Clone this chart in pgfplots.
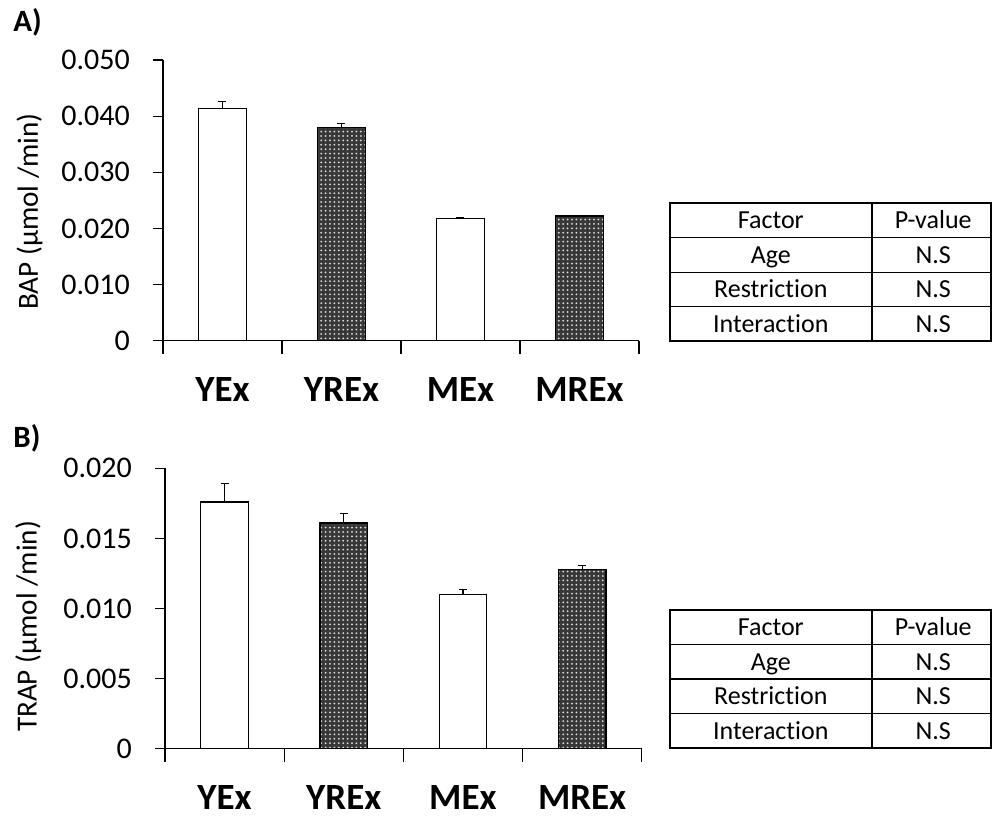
\documentclass[border=0pt]{standalone}
\usepackage{fontspec}
\setmainfont{Carlito}[Ligatures=NoCommon, Contextuals=NoAlternate]
\usepackage{pgfplots}
\pgfplotsset{compat=1.18}
\usetikzlibrary{patterns.meta}

% two-way ANOVA summary table, #1 = top edge
\newcommand\pvtable[1]{%
  \begin{scope}[shift={(0,#1)}]
    \foreach \r in {1,2,3}{\draw[line width=0.6pt] (335pt,-\r*17.25pt) -- (495.5pt,-\r*17.25pt);}
    \draw[line width=0.9pt] (435.85pt,0) -- (435.85pt,-69pt);
    \draw[line width=1pt] (335pt,0) rectangle (495.5pt,-69pt);
    \foreach \t/\p [count=\i] in {Factor/P-value,Age/N.S,Restriction/N.S,Interaction/N.S}{
      \node[anchor=base, inner sep=0pt, font=\fontsize{13}{15}\selectfont]
        at (385.4pt,{-(\i-0.5)*17.25pt-4.2pt}) {\t};
      \node[anchor=base, inner sep=0pt, font=\fontsize{13}{15}\selectfont]
        at (466.6pt,{-(\i-0.5)*17.25pt-4.2pt}) {\p};
    }
  \end{scope}}

\pgfplotsset{
  panel/.style={
    scale only axis,
    axis x line=bottom, axis y line=left,
    axis line style={-, line width=0.6pt, black},
    xmin=-0.5, xmax=3.5, ymin=0,
    tick align=outside,
    major tick length=5pt,
    tick style={line width=0.6pt, black},
    xtick={0,1,2,3},
    xticklabels={YEx,YREx,MEx,MREx},
    xtick style={draw=none},
    xticklabel style={anchor=base, yshift=-25.5pt, inner sep=0pt,
        font=\bfseries\fontsize{18.5}{22}\selectfont},
    extra x ticks={-0.5,0.5,1.5,2.5,3.5},
    extra x tick labels={,,,,},
    extra x tick style={xtick style={draw=black}, major tick length=6.5pt},
    scaled y ticks=false,
    yticklabel style={font=\fontsize{15}{18}\selectfont, inner sep=0pt, xshift=-11.4pt},
    ylabel style={font=\fontsize{14.6}{17}\selectfont, anchor=center},
    clip=false,
  },
  openbar/.style={ybar, bar shift=0pt, bar width=0.4, draw=black, fill=white, line width=0.6pt},
  dotbar/.style={ybar, bar shift=0pt, bar width=0.4, draw=black, line width=0.6pt,
    fill=black!78, postaction={pattern={Dots[distance=2.2pt, radius=0.5pt]}, pattern color=black!12}},
  errs/.style={error bars/.cd, y dir=plus, y explicit,
    error bar style={line width=0.6pt, black},
    error mark options={rotate=90, line width=0.6pt, mark size=2pt, black}},
}

\begin{document}
\begin{tikzpicture}
\path[use as bounding box] (0,0) rectangle (496pt,409pt);

% ---- A) BAP ----
\begin{axis}[panel, at={(81.5pt,238.65pt)}, anchor=south west,
  width=238pt, height=140.35pt, ymax=0.05,
  ytick={0,0.01,0.02,0.03,0.04,0.05},
  yticklabels={0,0.010,0.020,0.030,0.040,0.050},
  ylabel={BAP (µmol /min)},
  ylabel style={at={(axis description cs:-0.2805,0.46)}}]
\addplot[openbar, errs] coordinates {(0,0.0413) +- (0,0.0013) (2,0.0217) +- (0,0.0002)};
\addplot[dotbar, errs] coordinates {(1,0.0380) +- (0,0.0007) (3,0.0222) +- (0,0.0)};
\end{axis}
\node[anchor=base west, inner sep=0pt, font=\bfseries\fontsize{15.5}{18}\selectfont] at (6.5pt,393pt) {A)};
\pvtable{307.35pt}

% ---- B) TRAP ----
\begin{axis}[panel, at={(82.5pt,34.65pt)}, anchor=south west,
  width=238.35pt, height=140.2pt, ymax=0.02,
  ytick={0,0.005,0.01,0.015,0.02},
  yticklabels={0,0.005,0.010,0.015,0.020},
  ylabel={TRAP (µmol /min)},
  ylabel style={at={(axis description cs:-0.2866,0.436)}}]
\addplot[openbar, errs] coordinates {(0,0.0176) +- (0,0.00134) (2,0.0110) +- (0,0.00036)};
\addplot[dotbar, errs] coordinates {(1,0.0161) +- (0,0.0007) (3,0.0128) +- (0,0.00024)};
\end{axis}
\node[anchor=base west, inner sep=0pt, font=\bfseries\fontsize{15.5}{18}\selectfont] at (6.5pt,185pt) {B)};
\pvtable{104pt}
\end{tikzpicture}
\end{document}
